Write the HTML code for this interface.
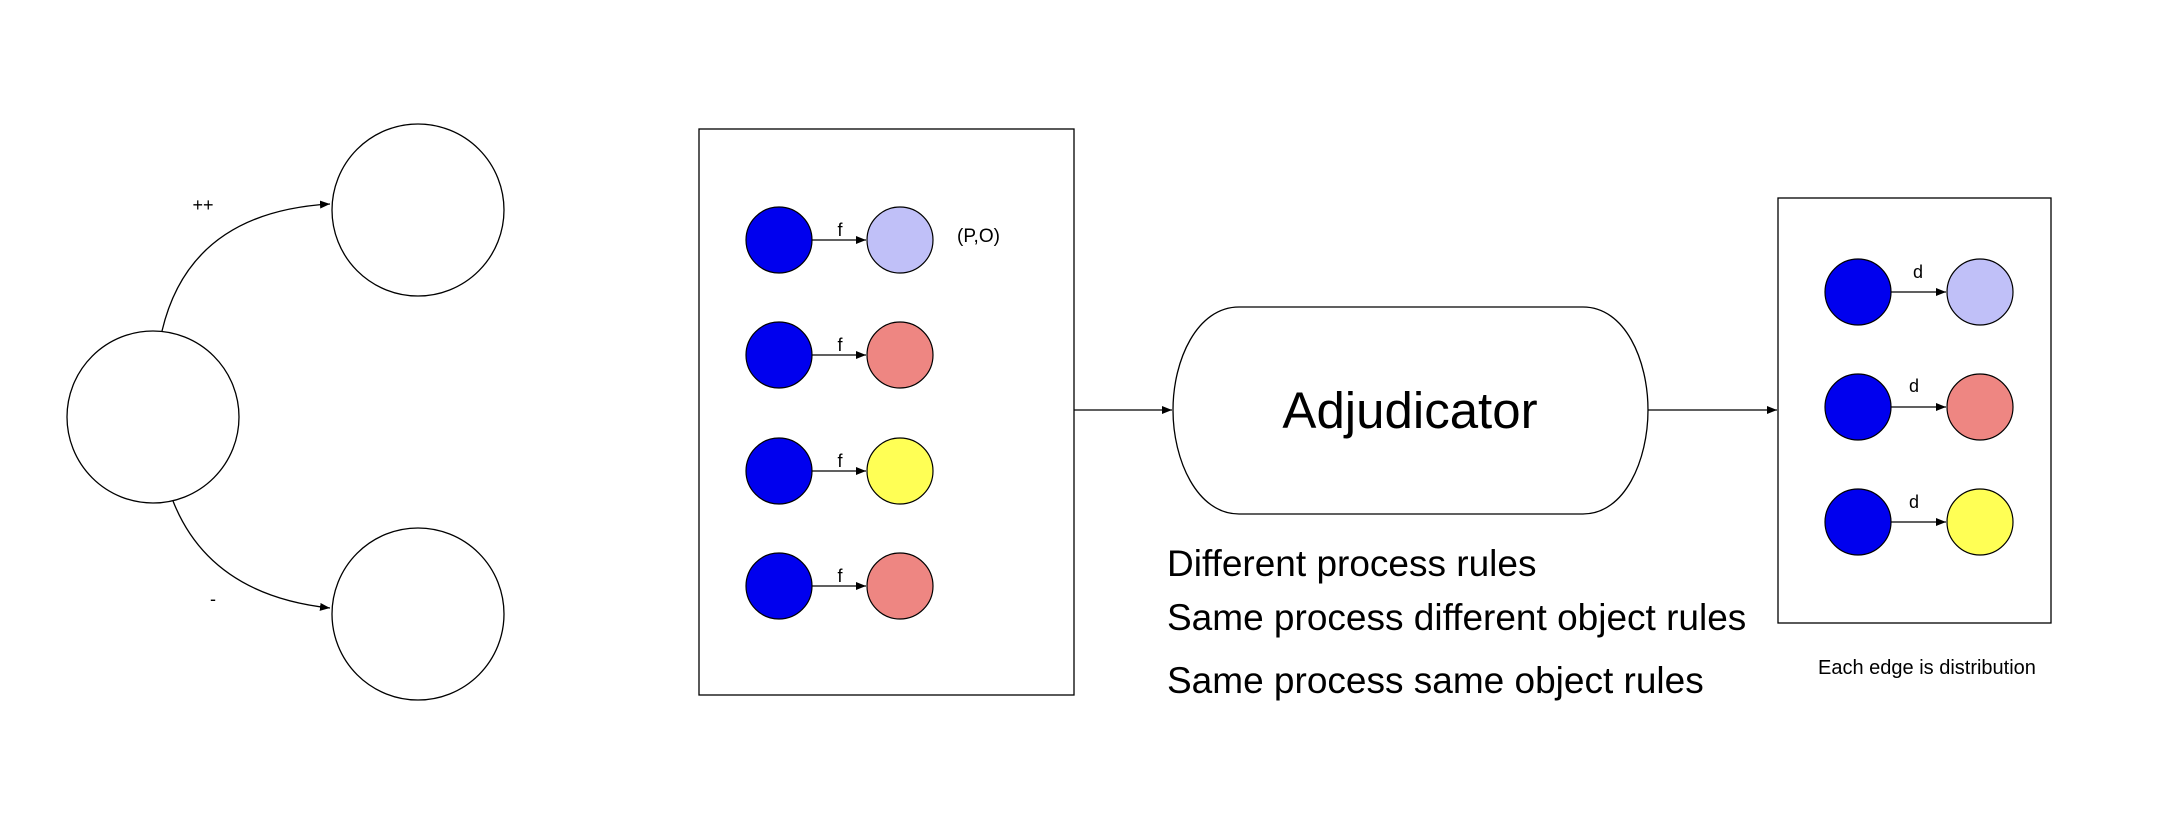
<!DOCTYPE html>
<html><head><meta charset="utf-8"><style>
html,body{margin:0;padding:0;background:#fff;}
svg{display:block;font-family:"Liberation Sans",Arial,sans-serif;}
</style></head><body>
<svg width="2158" height="820" viewBox="0 0 2158 820" xmlns="http://www.w3.org/2000/svg">
<defs>
<marker id="a" markerWidth="10" markerHeight="8" refX="10" refY="4" orient="auto" markerUnits="userSpaceOnUse">
<path d="M0,0 L10,4 L0,8 z" fill="#000"/></marker>
</defs>
<rect width="2158" height="820" fill="#fff"/>
<g fill="#fff" stroke="#000" stroke-width="1.3">
<circle cx="153" cy="417" r="86"/>
<circle cx="418" cy="210" r="86"/>
<circle cx="418" cy="614" r="86"/>
</g>
<g fill="none" stroke="#000" stroke-width="1.3">
<path d="M162,331 Q190,212 330,204" marker-end="url(#a)"/>
<path d="M173,501 Q210,595 330,608" marker-end="url(#a)"/>
</g>
<text x="203" y="211" font-size="18" text-anchor="middle">++</text>
<text x="213" y="605" font-size="18" text-anchor="middle">-</text>

<rect x="699" y="129" width="375" height="566" fill="#fff" stroke="#000" stroke-width="1.3"/>
<g stroke="#000" stroke-width="1.2">
<circle cx="779" cy="240" r="33" fill="#0000ee"/><circle cx="900" cy="240" r="33" fill="#c0c0f8"/>
<circle cx="779" cy="355" r="33" fill="#0000ee"/><circle cx="900" cy="355" r="33" fill="#ee8682"/>
<circle cx="779" cy="471" r="33" fill="#0000ee"/><circle cx="900" cy="471" r="33" fill="#ffff55"/>
<circle cx="779" cy="586" r="33" fill="#0000ee"/><circle cx="900" cy="586" r="33" fill="#ee8682"/>
<line x1="812" y1="240" x2="866" y2="240" marker-end="url(#a)"/>
<line x1="812" y1="355" x2="866" y2="355" marker-end="url(#a)"/>
<line x1="812" y1="471" x2="866" y2="471" marker-end="url(#a)"/>
<line x1="812" y1="586" x2="866" y2="586" marker-end="url(#a)"/>
</g>
<g font-size="18" text-anchor="middle">
<text x="840" y="236">f</text><text x="840" y="351">f</text><text x="840" y="467">f</text><text x="840" y="582">f</text>
</g>
<text x="957" y="242" font-size="19">(P,O)</text>

<g fill="none" stroke="#000" stroke-width="1.3">
<line x1="1074" y1="410" x2="1172" y2="410" marker-end="url(#a)"/>
<path d="M1239,307 L1583,307 C1625,307 1648,360 1648,410 C1648,460 1625,514 1583,514 L1239,514 C1197,514 1173,460 1173,410 C1173,360 1197,307 1239,307 Z" fill="#fff"/>
<line x1="1648" y1="410" x2="1777" y2="410" marker-end="url(#a)"/>
</g>
<text x="1410" y="428" font-size="51" text-anchor="middle">Adjudicator</text>
<g font-size="37">
<text x="1167" y="576">Different process rules</text>
<text x="1167" y="630">Same process different object rules</text>
<text x="1167" y="693">Same process same object rules</text>
</g>

<rect x="1778" y="198" width="273" height="425" fill="#fff" stroke="#000" stroke-width="1.3"/>
<g stroke="#000" stroke-width="1.2">
<circle cx="1858" cy="292" r="33" fill="#0000ee"/><circle cx="1980" cy="292" r="33" fill="#c0c0f8"/>
<circle cx="1858" cy="407" r="33" fill="#0000ee"/><circle cx="1980" cy="407" r="33" fill="#ee8682"/>
<circle cx="1858" cy="522" r="33" fill="#0000ee"/><circle cx="1980" cy="522" r="33" fill="#ffff55"/>
<line x1="1891" y1="292" x2="1946" y2="292" marker-end="url(#a)"/>
<line x1="1891" y1="407" x2="1946" y2="407" marker-end="url(#a)"/>
<line x1="1891" y1="522" x2="1946" y2="522" marker-end="url(#a)"/>
</g>
<g font-size="18" text-anchor="middle">
<text x="1918" y="278">d</text><text x="1914" y="392">d</text><text x="1914" y="508">d</text>
</g>
<text x="1818" y="674" font-size="20">Each edge is distribution</text>
</svg>
</body></html>
